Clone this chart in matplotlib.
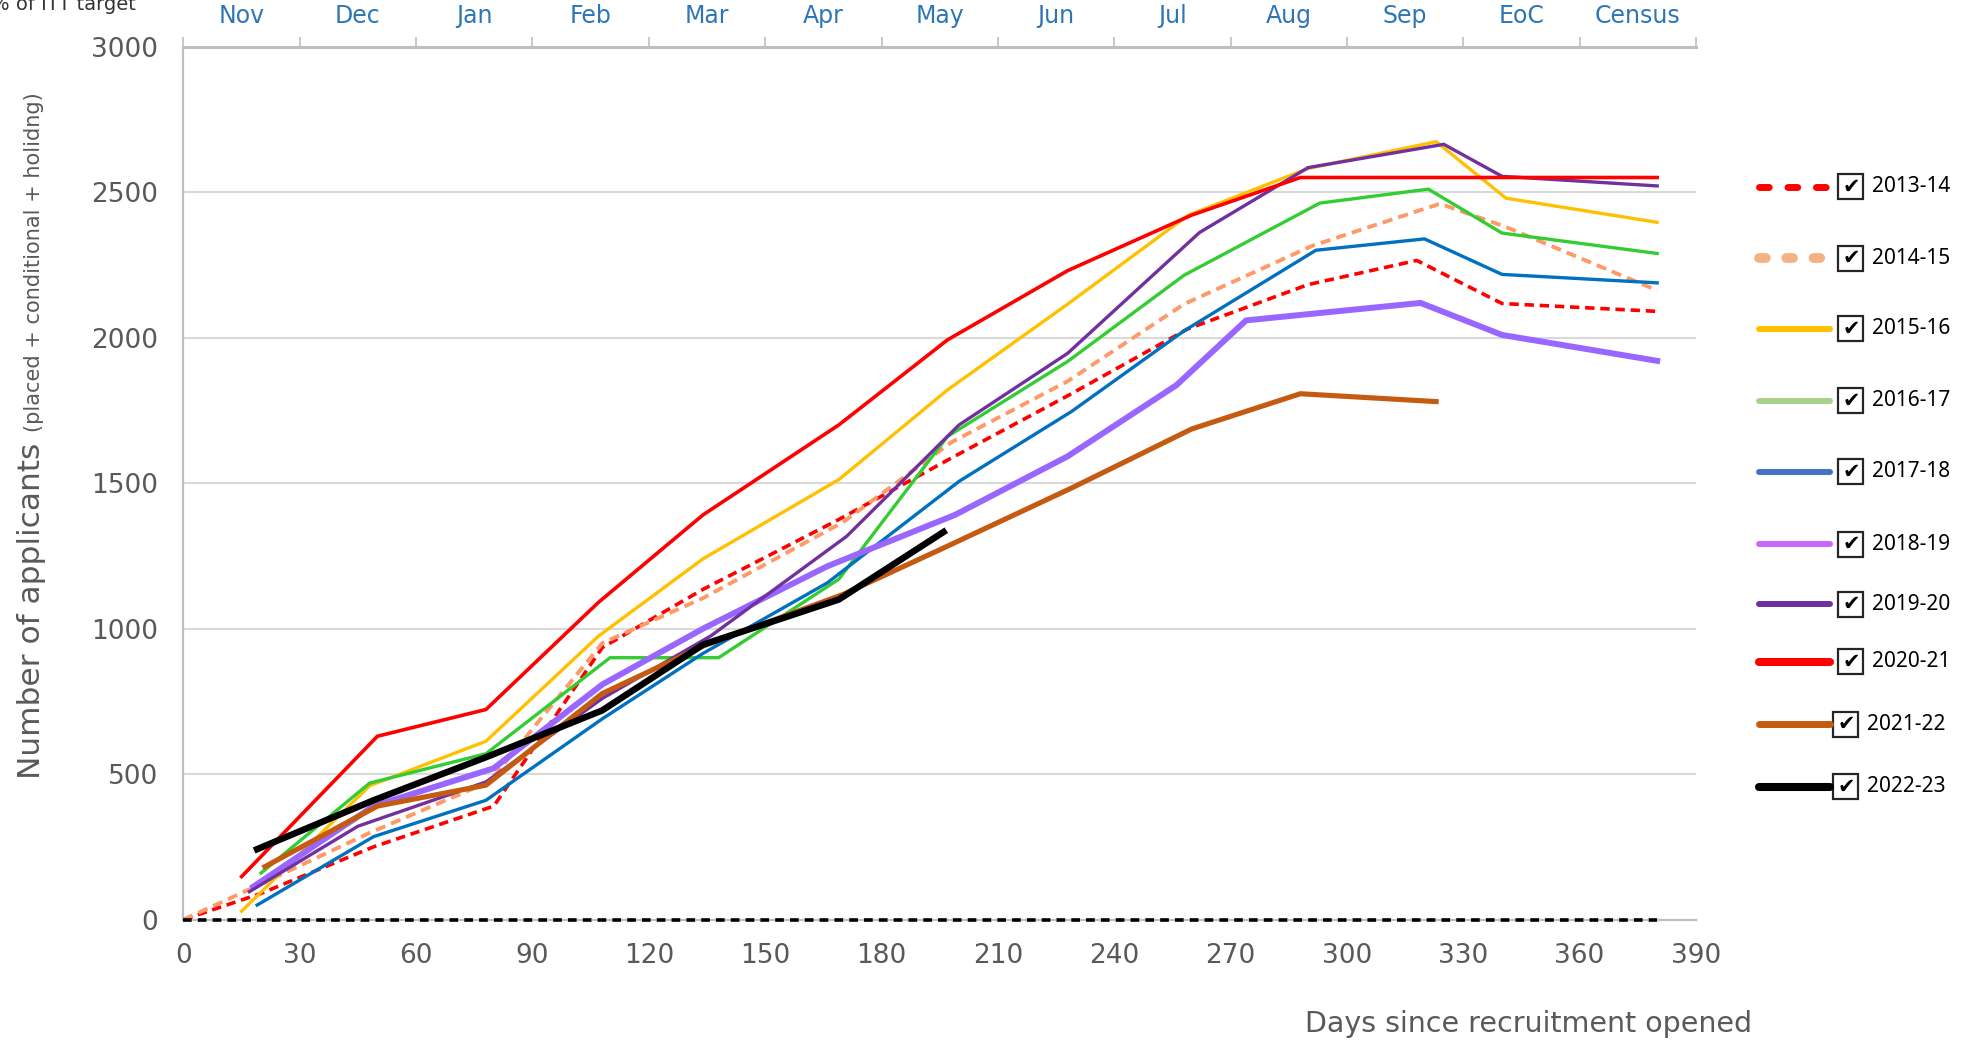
import matplotlib
matplotlib.use('Agg')
import matplotlib.pyplot as plt
from matplotlib.lines import Line2D
from matplotlib.patches import Rectangle

# recruitment cycles shown in the chart
years = ['2013-14', '2014-15', '2015-16', '2016-17', '2017-18',
         '2018-19', '2019-20', '2020-21', '2021-22', '2022-23']

# days since recruitment opened / number of applicants, one pair per cycle
days_1314 = [0, 20, 49, 80, 108, 134, 169, 198, 228, 259, 290, 318, 340, 380]
apps_1314 = [0, 90, 250, 390, 935, 1135, 1375, 1586, 1800, 2030, 2182, 2265, 2117, 2090]

days_1415 = [0, 18, 48, 79, 108, 134, 170, 198, 228, 258, 291, 324, 341, 380]
apps_1415 = [0, 110, 298, 475, 950, 1105, 1365, 1640, 1850, 2115, 2315, 2460, 2380, 2162]

days_1516 = [15, 48, 78, 107, 134, 169, 197, 228, 259, 290, 323, 341, 380]
apps_1516 = [29, 460, 613, 974, 1240, 1512, 1820, 2115, 2420, 2581, 2673, 2479, 2396]

days_1617 = [20, 48, 78, 110, 138, 169, 197, 228, 258, 293, 321, 340, 380]
apps_1617 = [160, 469, 570, 900, 900, 1170, 1660, 1918, 2214, 2462, 2510, 2359, 2289]

days_1718 = [19, 49, 78, 108, 134, 166, 200, 229, 258, 292, 320, 340, 380]
apps_1718 = [50, 285, 410, 690, 915, 1157, 1506, 1746, 2023, 2300, 2339, 2217, 2188]

days_1819 = [18, 49, 80, 108, 134, 166, 199, 228, 256, 274, 319, 340, 380]
apps_1819 = [113, 390, 520, 808, 1000, 1214, 1391, 1592, 1836, 2059, 2119, 2009, 1920]

days_1920 = [17, 45, 78, 108, 136, 171, 200, 228, 262, 290, 325, 340, 380]
apps_1920 = [96, 321, 473, 760, 975, 1317, 1700, 1946, 2361, 2584, 2664, 2554, 2521]

days_2021 = [15, 50, 78, 107, 134, 169, 197, 228, 260, 288, 320, 340, 380]
apps_2021 = [148, 630, 722, 1090, 1391, 1700, 1992, 2230, 2421, 2550, 2550, 2550, 2550]

days_2122 = [21, 50, 78, 108, 134, 170, 196, 229, 260, 288, 323]
apps_2122 = [182, 390, 462, 777, 940, 1117, 1277, 1483, 1686, 1807, 1780]

days_2223 = [19, 49, 78, 108, 134, 169, 196]
apps_2223 = [242, 410, 558, 719, 945, 1100, 1332]

# % of ITT target series (flat at zero)
target_days = [0, 380]
target_vals = [0, 0]

months = ['Nov', 'Dec', 'Jan', 'Feb', 'Mar', 'Apr', 'May', 'Jun',
          'Jul', 'Aug', 'Sep', 'EoC', 'Census']

all_days = [days_1314, days_1415, days_1516, days_1617, days_1718,
            days_1819, days_1920, days_2021, days_2122, days_2223]
all_apps = [apps_1314, apps_1415, apps_1516, apps_1617, apps_1718,
            apps_1819, apps_1920, apps_2021, apps_2122, apps_2223]

plot_colors = ['#FF0000', '#FF9966', '#FFC000', '#33CC33', '#0070C0',
               '#9966FF', '#7030A0', '#FF0000', '#C55A11', '#000000']
legend_colors = ['#FF0000', '#F4B183', '#FFC000', '#A9D18E', '#4472C4',
                 '#CC66FF', '#7030A0', '#FF0000', '#C55A11', '#000000']
widths = [2.6, 2.8, 2.4, 2.4, 2.4, 4.3, 2.4, 2.6, 3.7, 4.7]
dashed = [True, True, False, False, False, False, False, False, False, False]

grey = '#595959'
axis_grey = '#BFBFBF'

fig = plt.figure(figsize=(19.62, 10.41), dpi=100)
ax = fig.add_axes([0.0935, 0.1166, 0.7709, 0.8387])

ax.plot(target_days, target_vals, color='black', lw=2.6, dashes=(2.4, 1.7),
        zorder=5, clip_on=False)

for i in range(len(years)):
    kw = dict(color=plot_colors[i], lw=widths[i], zorder=3 + i * 0.1,
              clip_on=False, solid_joinstyle='miter')
    if dashed[i]:
        kw['dashes'] = (2.6, 1.6)
    ax.plot(all_days[i], all_apps[i], **kw)

ax.set_xlim(0, 390)
ax.set_ylim(0, 3000)
ax.set_xticks(range(0, 391, 30))
ax.set_yticks(range(0, 3001, 500))
ax.tick_params(axis='both', length=0, labelsize=19, labelcolor=grey)
ax.tick_params(axis='x', pad=17)
ax.tick_params(axis='y', pad=18)
ax.grid(axis='y', color='#D9D9D9', lw=1.5)
ax.set_axisbelow(True)
ax.spines['right'].set_visible(False)
ax.spines['top'].set_visible(False)
ax.spines['left'].set_color(axis_grey)
ax.spines['left'].set_linewidth(1.6)
ax.spines['bottom'].set_color(axis_grey)
ax.spines['bottom'].set_linewidth(1.6)

# month labels along the top
ax2 = ax.twiny()
ax2.set_xlim(0, 390)
ax2.set_xticks(range(0, 391, 30))
ax2.set_xticklabels([])
ax2.set_xticks([15 + 30 * k for k in range(len(months))], minor=True)
ax2.set_xticklabels(months, minor=True, fontsize=17, color='#2E75B6')
ax2.tick_params(axis='x', which='major', direction='out', length=7,
                width=1.2, color=axis_grey)
ax2.tick_params(axis='x', which='minor', length=0, pad=13)
for s in ['left', 'right', 'bottom']:
    ax2.spines[s].set_visible(False)
ax2.spines['top'].set_color(axis_grey)
ax2.spines['top'].set_linewidth(2.2)

fig.text(0.779, 0.016, 'Days since recruitment opened', fontsize=20.5,
         color=grey, ha='center', va='center')

# y label with smaller bracket part
t1 = fig.text(0.0205, 0.252, 'Number of applicants ', rotation=90,
              rotation_mode='anchor', ha='left', va='baseline',
              fontsize=22.5, color=grey)
fig.canvas.draw()
h1 = t1.get_window_extent(fig.canvas.get_renderer()).height / fig.bbox.height
fig.text(0.0205, 0.252 + h1, '(placed + conditional + holidng)', rotation=90,
         rotation_mode='anchor', ha='left', va='baseline',
         fontsize=15, color=grey)

fig.text(0.0693, 0.990, '% of ITT target', fontsize=14, color='#333333',
         ha='right', va='baseline')

# legend with check boxes
leg_y = [0.8207, 0.7519, 0.6840, 0.6151, 0.5466,
         0.4774, 0.4195, 0.3644, 0.3042, 0.2443]
leg_shift = [0, 0, 0, 0, 0, 0, 0, 0, -0.0025, -0.0025]
leg_lw = [5.0, 7.0, 4.3, 4.3, 4.3, 4.3, 4.3, 5.8, 5.0, 5.8]
for i, yr in enumerate(years):
    y = leg_y[i]
    dx = leg_shift[i]
    ln = Line2D([0.8966, 0.9327], [y, y], transform=fig.transFigure,
                color=legend_colors[i], lw=leg_lw[i],
                solid_capstyle='round', dash_capstyle='round')
    if i == 0:
        ln.set_dashes((1.4, 2.7))
    elif i == 1:
        ln.set_dashes((0.7, 2.1))
    fig.add_artist(ln)
    bw = 25 / 1962
    bh = 25 / 1041
    fig.add_artist(Rectangle((0.9370 + dx, y - bh / 2), bw, bh,
                             transform=fig.transFigure, fill=False,
                             ec='#262626', lw=1.6))
    fig.text(0.9370 + dx + bw / 2, y, '\u2714', fontsize=15, ha='center',
             va='center', color='black')
    fig.text(0.9540 + dx, y, yr, fontsize=15, family='Noto Sans',
             ha='left', va='center', color='black')

fig.savefig('out.png', dpi=100)
